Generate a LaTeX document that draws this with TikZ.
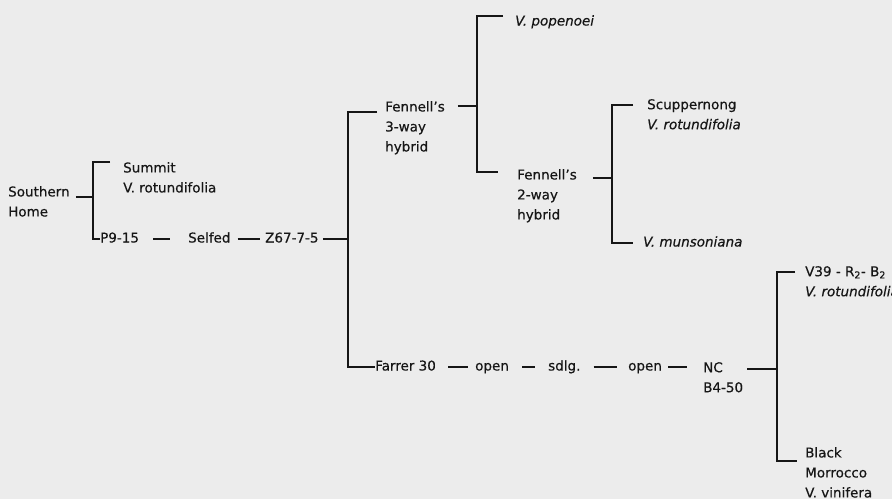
\documentclass[tikz,border=0pt]{standalone}
\usepackage{fontspec}
\setmainfont{DejaVu Sans}[FakeBold=0.4]
\usepackage{tikz}
\usetikzlibrary{positioning, calc}
\definecolor{paper}{RGB}{236,236,236}
\definecolor{ink}{RGB}{22,22,22}

\tikzset{
    link/.style={draw=ink, line width=2.2pt},
    lbl/.style={anchor=west, inner sep=0pt, text=ink, font=\fontsize{13.5}{20}\selectfont, text height=10pt, text depth=3pt},
    stack/.style={anchor=north west, inner sep=0pt, align=left, text=ink, font=\fontsize{13.5}{20}\selectfont}
}

\begin{document}
\begin{tikzpicture}[x=1pt, y=-1pt]
    % Paper
    \fill[paper] (0,0) rectangle (892,499);
    \useasboundingbox (0,0) rectangle (892,499);

    % Southern Home and its parents
    \node[stack] (home) at (8,186) {Southern\\Home};
    \node[stack] (summit) at (123,162) {Summit\\V. rotundifolia};
    \node[lbl] (p915) at (100,239) {P9-15};
    \node[lbl] (selfed) at (188,239) {Selfed};
    \node[lbl] (z67) at (265,239) {Z67-7-5};

    % Fennell's hybrids
    \node[stack] (fen3) at (385,101) {Fennell's\\3-way\\hybrid};
    \node[lbl] (popenoei) at (515,22) {\textit{V. popenoei}};
    \node[stack] (fen2) at (517,169) {Fennell's\\2-way\\hybrid};
    \node[stack] (scupp) at (647,99) {Scuppernong\\\textit{V. rotundifolia}};
    \node[lbl] (munson) at (643,243) {\textit{V. munsoniana}};

    % Farrer 30 line
    \node[lbl] (farrer) at (375,367) {Farrer 30};
    \node[lbl] (open1) at (475,367) {open};
    \node[lbl] (sdlg) at (548,367) {sdlg.};
    \node[lbl] (open2) at (628,367) {open};
    \node[stack] (nc) at (703,362) {NC\\B4-50};
    \node[stack] (v39) at (805,266) {V39 - R\textsubscript{2}- B\textsubscript{2}\\\textit{V. rotundifolia}};
    \node[stack] (black) at (805,447) {Black\\Morrocco\\V. vinifera};

    % Bar coordinates
    \coordinate (ja) at (93,197);
    \coordinate (jb) at (348,239);
    \coordinate (jc) at (477,106);
    \coordinate (jd) at (612,178);
    \coordinate (je) at (777,369);

    % Brackets
    \draw[link] ([xshift=6pt]ja -| home.east) -- (ja);
    \draw[link] ([xshift=-13pt]summit.north west) -| (ja) |- (p915);
    \draw[link] ([xshift=14pt]p915.east) -- ([xshift=-18pt]selfed.west);
    \draw[link] ([xshift=7pt]selfed.east) -- ([xshift=-5pt]z67.west);
    \draw[link] ([xshift=4pt]z67.east) -- (jb);
    \draw[link] ([shift={(-8pt,-11pt)}]fen3.north west) -| (jb) |- (farrer);

    \draw[link] ([xshift=13pt]jc -| fen3.east) -- (jc);
    \draw[link] ([shift={(-12pt,6pt)}]popenoei.west) -| (jc) |- ([shift={(-19pt,-3pt)}]fen2.north west);

    \draw[link] ([xshift=16pt]jd -| fen2.east) -- (jd);
    \draw[link] ([shift={(-14pt,-6pt)}]scupp.north west) -| (jd) |- ([xshift=-10pt]munson.west);

    % Farrer 30 to NC B4-50
    \draw[link] ([xshift=12pt]farrer.east) -- ([xshift=-7pt]open1.west);
    \draw[link] ([xshift=13pt]open1.east) -- ([xshift=-13pt]sdlg.west);
    \draw[link] ([xshift=13pt]sdlg.east) -- ([xshift=-11pt]open2.west);
    \draw[link] ([xshift=6pt]open2.east) -- ([xshift=-16pt]open2.east -| nc.west);

    \draw[link] ([xshift=4pt]je -| nc.east) -- (je);
    \draw[link] ([shift={(-10pt,-6pt)}]v39.north west) -| (je) |- ([shift={(-8pt,-14pt)}]black.north west);
\end{tikzpicture}
\end{document}
